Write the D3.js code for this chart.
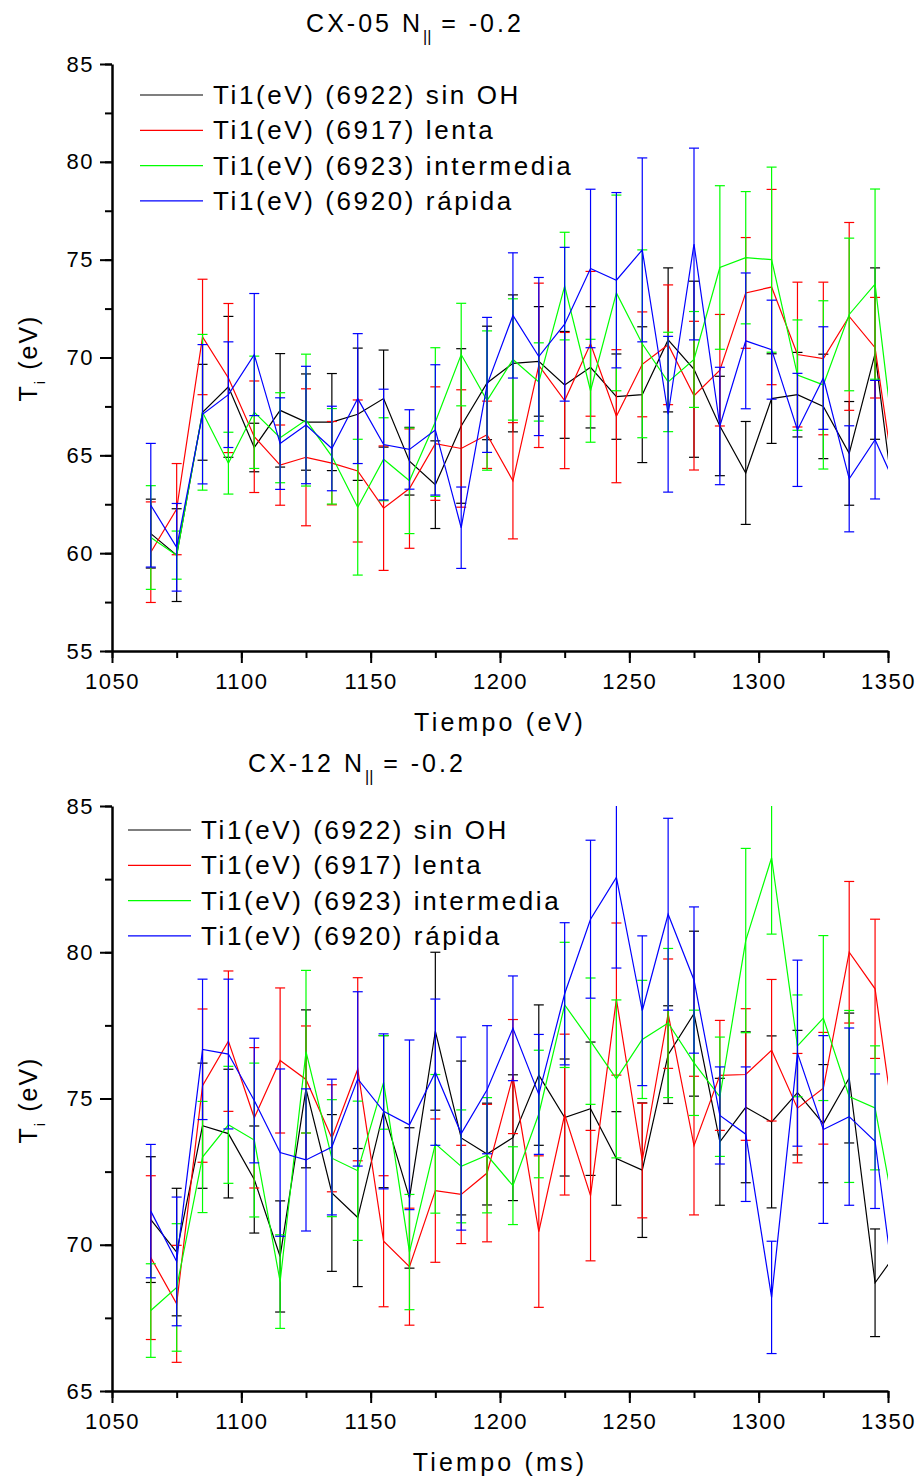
<!DOCTYPE html>
<html>
<head>
<meta charset="utf-8">
<script src="https://cdn.jsdelivr.net/npm/d3@7"></script>
<style>
  body { margin: 0; background: #fff; }
  svg text { font-family: "Liberation Sans", Arial, sans-serif; fill: #000; }
</style>
</head>
<body>
<svg id="chart" width="921" height="1481"></svg>
<script>
// two CX panels, Ti vs time, with error bars

// DATA
var times = [1065, 1075, 1085, 1095, 1105, 1115, 1125, 1135, 1145, 1155,
             1165, 1175, 1185, 1195, 1205, 1215, 1225, 1235, 1245, 1255,
             1265, 1275, 1285, 1295, 1305, 1315, 1325, 1335, 1345, 1355];

var names = ["Ti1(eV) (6922) sin OH", "Ti1(eV) (6917) lenta",
             "Ti1(eV) (6923) intermedia", "Ti1(eV) (6920) rápida"];

// CX-05
var cx05Black = [61.0, 59.9, 67.2, 68.5, 65.4, 67.3, 66.7, 66.7, 67.1, 67.9, 64.7, 63.5, 66.5, 68.7, 69.7,
                 69.8, 68.6, 69.5, 68.0, 68.1, 70.9, 69.4, 66.5, 64.1, 67.9, 68.1, 67.5, 65.1, 70.2, 59.75];
var cx05BlackErr = [1.76, 2.37, 2.45, 3.6, 1.24, 2.9, 2.46, 2.48, 3.38, 2.48, 1.73, 2.24, 3.95, 2.9, 3.5,
                    2.8, 2.73, 3.1, 2.18, 3.47, 3.68, 4.5, 2.54, 2.63, 2.29, 2.16, 2.67, 2.65, 4.38, 0];
var cx05Red = [60.05, 62.25, 71.05, 68.95, 65.95, 64.5, 64.9, 64.6, 64.2, 62.3, 63.3, 65.6, 65.35, 66.05, 63.7,
               69.6, 67.8, 70.7, 67.0, 69.65, 70.65, 68.05, 69.35, 73.3, 73.6, 70.15, 69.95, 72.1, 70.5, 61.5];
var cx05RedErr = [2.57, 2.33, 2.95, 3.81, 2.85, 2.05, 3.5, 2.13, 3.63, 3.18, 3.05, 2.9, 3.0, 1.72, 2.97,
                  4.2, 3.48, 3.7, 3.4, 2.68, 3.06, 3.8, 2.85, 2.83, 4.99, 3.7, 3.9, 4.8, 2.57, 0];
var cx05Green = [60.8, 59.9, 67.2, 64.6, 67.2, 65.9, 66.8, 64.95, 62.35, 64.8, 63.7, 66.7, 70.15, 67.8, 69.9,
                 68.75, 73.65, 68.3, 73.3, 70.7, 68.75, 69.9, 74.6, 75.1, 75.0, 69.1, 68.6, 72.2, 73.75, 62.6];
var cx05GreenErr = [2.65, 1.23, 3.98, 1.58, 2.87, 2.3, 3.37, 2.44, 3.47, 2.12, 2.7, 3.8, 2.62, 3.56, 3.1,
                    2.0, 2.75, 2.63, 5.0, 4.8, 2.54, 2.45, 4.18, 3.38, 4.73, 2.82, 4.3, 3.9, 4.86, 0];
var cx05Blue = [62.45, 60.3, 67.1, 68.1, 70.15, 65.6, 66.55, 65.35, 67.9, 65.55, 65.3, 66.3, 61.3, 68.6, 72.15,
                70.05, 71.7, 74.55, 73.95, 75.5, 67.1, 75.8, 66.5, 70.85, 70.4, 66.3, 68.95, 63.8, 65.8, 62.85];
var cx05BlueErr = [3.16, 2.24, 3.56, 2.7, 3.12, 2.34, 3.0, 2.16, 3.32, 2.83, 2.03, 3.33, 2.08, 3.45, 3.2,
                   4.04, 3.93, 4.05, 4.48, 4.7, 3.98, 4.9, 3.0, 3.47, 2.53, 2.89, 2.62, 2.71, 3.03, 0];

// CX-12
var cx12Black = [70.86, 69.75, 74.07, 73.8, 72.23, 69.6, 75.33, 71.77, 70.93, 74.55, 71.6, 77.3, 73.65, 73.1, 73.66,
                 75.8, 74.35, 74.65, 72.95, 72.55, 76.5, 77.9, 73.52, 74.7, 74.2, 75.2, 74.14, 75.7, 68.7, 69.93];
var cx12BlackErr = [2.15, 2.18, 2.14, 2.2, 1.83, 1.9, 2.7, 2.68, 2.36, 2.6, 2.4, 2.7, 2.63, 1.74, 2.15,
                    2.4, 2.0, 2.28, 1.6, 2.3, 1.67, 2.82, 2.17, 2.58, 2.94, 2.13, 2.02, 2.22, 1.84, 0];
var cx12Red = [69.56, 67.98, 75.44, 76.96, 74.34, 76.3, 75.65, 73.64, 76.0, 70.12, 69.25, 71.85, 71.72, 72.45, 75.75,
               70.45, 74.45, 71.68, 78.4, 72.88, 77.9, 73.39, 75.79, 75.82, 76.65, 74.67, 75.35, 80.0, 78.75, 72.4];
var cx12RedErr = [2.8, 2.0, 2.62, 2.4, 2.4, 2.48, 1.83, 1.83, 3.13, 2.24, 2.0, 2.45, 1.68, 2.35, 1.95,
                  2.59, 2.75, 2.23, 2.6, 1.96, 1.87, 2.37, 1.88, 2.25, 2.42, 1.87, 1.91, 2.42, 2.38, 0];
var cx12Green = [67.75, 68.54, 73.0, 74.1, 73.58, 68.74, 76.6, 72.96, 72.53, 75.55, 69.75, 73.45, 72.68, 73.06, 72.02,
                 74.47, 78.2, 76.96, 75.67, 77.02, 77.58, 76.22, 75.06, 80.4, 83.23, 76.8, 77.75, 75.07, 74.68, 69.9];
var cx12GreenErr = [1.6, 2.18, 1.9, 2.0, 2.63, 1.6, 2.78, 2.0, 2.38, 1.6, 1.97, 2.37, 1.93, 1.97, 1.33,
                    2.18, 2.14, 2.16, 2.7, 2.02, 2.55, 1.8, 2.04, 3.15, 2.61, 1.74, 2.82, 2.94, 2.12, 0];
var cx12Blue = [71.15, 69.43, 76.68, 76.52, 74.93, 73.15, 72.9, 73.34, 75.67, 74.56, 74.1, 75.9, 73.8, 75.3, 77.4,
                75.14, 78.58, 81.13, 82.56, 78.0, 81.3, 79.05, 74.42, 73.78, 68.2, 76.55, 73.94, 74.38, 73.54, 66.74];
var cx12BlueErr = [2.28, 2.2, 2.4, 2.56, 2.13, 2.86, 2.43, 2.32, 2.98, 2.65, 2.9, 2.5, 3.3, 2.19, 1.79,
                   2.05, 2.43, 2.7, 3.1, 2.56, 3.28, 2.5, 1.66, 2.3, 1.92, 3.18, 3.21, 3.03, 2.3, 0];

var colors = ["#000000", "#ff0000", "#00ff00", "#0000ff"];

var svg = d3.select("#chart");

function drawPanel(p) {
    var x = d3.scaleLinear().domain([1050, 1350]).range([112, 888]);
    var y = d3.scaleLinear().domain(p.yDomain).range([p.bottom, p.top]);

    var g = svg.append("g");

    // clip to the plot area
    g.append("clipPath").attr("id", p.id + "clip")
      .append("rect")
        .attr("x", 112).attr("y", p.top)
        .attr("width", 888 - 112).attr("height", p.bottom - p.top);

    // title
    var t = g.append("text")
        .attr("x", p.titleX).attr("y", p.titleY)
        .attr("text-anchor", "middle")
        .style("font-size", "25px").style("letter-spacing", "3px");
    t.append("tspan").text(p.title + " N");
    t.append("tspan").attr("dy", 10).style("font-size", "16px").style("letter-spacing", "0px").text("||");
    t.append("tspan").attr("dy", -10).text(" = -0.2");

    // axes
    var minorY = d3.range(p.yDomain[0], p.yDomain[1] + 0.1, 2.5);
    g.append("g")
        .attr("transform", "translate(112,0)")
        .call(d3.axisLeft(y).tickValues(minorY).tickSize(7).tickSizeOuter(0).tickFormat(""))
        .call(s => s.select(".domain").remove());
    g.append("g")
        .attr("transform", "translate(0," + p.bottom + ")")
        .call(d3.axisBottom(x).tickValues(d3.range(1050, 1351, 25)).tickSize(7).tickSizeOuter(0).tickFormat(""))
        .call(s => s.select(".domain").remove());

    var yAxis = g.append("g")
        .attr("transform", "translate(112,0)")
        .call(d3.axisLeft(y).tickValues(d3.range(p.yDomain[0], p.yDomain[1] + 0.1, 5))
            .tickSize(12).tickSizeOuter(0).tickPadding(6));
    var xAxis = g.append("g")
        .attr("transform", "translate(0," + p.bottom + ")")
        .call(d3.axisBottom(x).tickValues(d3.range(1050, 1351, 50))
            .tickSize(12).tickSizeOuter(0).tickPadding(10).tickFormat(d3.format("d")));

    g.selectAll(".tick line").attr("stroke", "#000").attr("stroke-width", 2);
    g.selectAll(".domain").attr("stroke", "#000").attr("stroke-width", 2.5);
    yAxis.selectAll("text").style("font-size", "22px").style("letter-spacing", "1.5px");
    xAxis.selectAll("text").style("font-size", "22px").style("letter-spacing", "1.5px");

    // axis titles
    g.append("text")
        .attr("x", 500).attr("y", p.bottom + 80)
        .attr("text-anchor", "middle")
        .style("font-size", "25px").style("letter-spacing", "3.2px")
        .text(p.xLabel);
    var yl = g.append("text")
        .attr("transform", "translate(37," + p.yLabelY + ") rotate(-90)")
        .attr("text-anchor", "middle")
        .style("font-size", "25px").style("letter-spacing", "2px");
    yl.append("tspan").text("T");
    yl.append("tspan").attr("dy", 8).style("font-size", "15px").text("i");
    yl.append("tspan").attr("dy", -8).text(" (eV)");

    // series
    var plot = g.append("g").attr("clip-path", "url(#" + p.id + "clip)");
    var line = d3.line().x(d => x(d.t)).y(d => y(d.v));

    p.series.forEach(function(s, i) {
        var pts = times.map((t, j) => ({ t: t, v: s.v[j], e: s.e[j] }));
        var c = colors[i];
        var bars = plot.append("g").attr("stroke", c).attr("stroke-width", 1.2).attr("fill", "none");
        pts.filter(d => d.e > 0).forEach(function(d) {
            var cx = x(d.t), y0 = y(d.v - d.e), y1 = y(d.v + d.e);
            bars.append("line").attr("x1", cx).attr("x2", cx).attr("y1", y0).attr("y2", y1);
            bars.append("line").attr("x1", cx - 5).attr("x2", cx + 5).attr("y1", y0).attr("y2", y0);
            bars.append("line").attr("x1", cx - 5).attr("x2", cx + 5).attr("y1", y1).attr("y2", y1);
        });
        plot.append("path")
            .datum(pts)
            .attr("d", line)
            .attr("fill", "none")
            .attr("stroke", c)
            .attr("stroke-width", 1.2);
    });

    // legend
    var lg = g.append("g");
    names.forEach(function(n, i) {
        var ly = p.legendY + i * 35.3;
        lg.append("line")
            .attr("x1", p.legendX).attr("x2", p.legendX + 63)
            .attr("y1", ly).attr("y2", ly)
            .attr("stroke", colors[i]).attr("stroke-width", 1.2);
        lg.append("text")
            .attr("x", p.legendX + 73).attr("y", ly + 9)
            .style("font-size", "26px").style("letter-spacing", "2.6px")
            .text(n);
    });
}

drawPanel({
    id: "cx05", title: "CX-05", titleX: 415, titleY: 32,
    top: 64, bottom: 651, yDomain: [55, 85],
    xLabel: "Tiempo (eV)", yLabelY: 358,
    legendX: 140, legendY: 95,
    series: [
        { v: cx05Black, e: cx05BlackErr },
        { v: cx05Red, e: cx05RedErr },
        { v: cx05Green, e: cx05GreenErr },
        { v: cx05Blue, e: cx05BlueErr }
    ]
});

drawPanel({
    id: "cx12", title: "CX-12", titleX: 357, titleY: 772,
    top: 806, bottom: 1391, yDomain: [65, 85],
    xLabel: "Tiempo (ms)", yLabelY: 1100,
    legendX: 128, legendY: 830,
    series: [
        { v: cx12Black, e: cx12BlackErr },
        { v: cx12Red, e: cx12RedErr },
        { v: cx12Green, e: cx12GreenErr },
        { v: cx12Blue, e: cx12BlueErr }
    ]
});
</script>
</body>
</html>
